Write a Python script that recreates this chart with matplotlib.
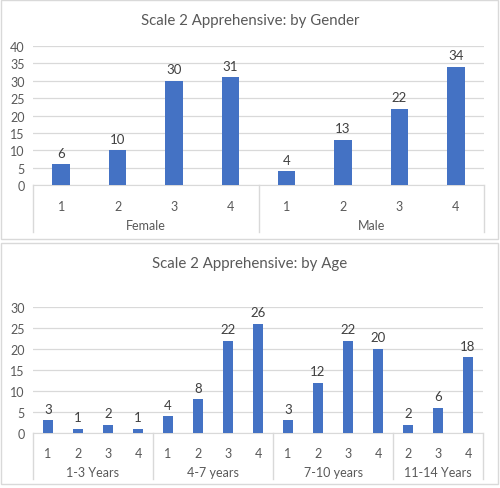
import matplotlib
matplotlib.use("Agg")
import matplotlib.pyplot as plt
from matplotlib.patches import Rectangle
from matplotlib import transforms
import numpy as np

plt.rcParams["font.family"] = ["Lato", "DejaVu Sans"]

# top chart: by gender
gender_groups = ["Female", "Male"]
gender_cats = [["1", "2", "3", "4"], ["1", "2", "3", "4"]]
gender_vals = [[6, 10, 30, 31], [4, 13, 22, 34]]

# bottom chart: by age
age_groups = ["1-3 Years", "4-7 years", "7-10 years", "11-14 Years"]
age_cats = [["1", "2", "3", "4"], ["1", "2", "3", "4"], ["1", "2", "3", "4"], ["2", "3", "4"]]
age_vals = [[3, 1, 2, 1], [4, 8, 22, 26], [3, 12, 22, 20], [2, 6, 18]]

BAR = "#4472C4"
GRID = "#D9D9D9"
TXT = "#595959"

W, H = 500, 489
fig = plt.figure(figsize=(W / 100, H / 100), dpi=100)


def px_axes(x0, y_top, x1, y_bot):
    return fig.add_axes([x0 / W, 1 - y_bot / H, (x1 - x0) / W, (y_bot - y_top) / H])


def panel_box(x0, y0, x1, y1):
    fig.patches.append(Rectangle((x0 / W, 1 - y1 / H), (x1 - x0) / W, (y1 - y0) / H,
                                 transform=fig.transFigure, fill=False,
                                 edgecolor=GRID, linewidth=1))


def draw(ax, groups, cats, vals, ymax, title, title_y, tick_off, grp_off, line_off):
    labels = [c for g in cats for c in g]
    values = [v for g in vals for v in g]
    x = np.arange(len(values))
    ax.bar(x, values, width=0.31, color=BAR, zorder=3)
    for xi, v in zip(x, values):
        ax.annotate(str(v), (xi, v), xytext=(0, 4), textcoords="offset points",
                    ha="center", va="bottom", fontsize=9.5, color="#404040")
    ax.set_xlim(-0.5, len(values) - 0.5)
    ax.set_ylim(0, ymax)
    ax.set_yticks(np.arange(0, ymax + 1, 5))
    ax.yaxis.grid(True, color=GRID, linewidth=0.9, zorder=0)
    ax.set_axisbelow(True)
    for s in ["top", "right", "left"]:
        ax.spines[s].set_visible(False)
    ax.spines["bottom"].set_color(GRID)
    ax.tick_params(axis="y", length=0, labelsize=9, labelcolor=TXT, pad=6)
    ax.set_xticks(x)
    ax.set_xticklabels(labels)
    ax.tick_params(axis="x", length=0, labelsize=9, labelcolor=TXT, pad=tick_off)

    trans = transforms.blended_transform_factory(ax.transData, ax.transAxes)
    h_px = ax.get_position().height * H
    start = 0
    bounds = [-0.5]
    for g, c in zip(groups, cats):
        centre = start + (len(c) - 1) / 2
        ax.text(centre, -grp_off / h_px, g, transform=trans, ha="center", va="center",
                fontsize=9, color=TXT)
        start += len(c)
        bounds.append(start - 0.5)
    for b in bounds:
        ax.plot([b, b], [0, -line_off / h_px], transform=trans, color=GRID,
                linewidth=1, clip_on=False)
    fig.text(0.5, 1 - title_y / H, title, ha="center", va="center",
             fontsize=10.8, color=TXT)


panel_box(1, 1, 498, 240)
panel_box(1, 244, 498, 485)

ax1 = px_axes(33, 47, 484, 186)
draw(ax1, gender_groups, gender_cats, gender_vals, 40,
     "Scale 2 Apprehensive: by Gender", 21, 11, 40, 47)

ax2 = px_axes(33, 308, 483, 434)
draw(ax2, age_groups, age_cats, age_vals, 30,
     "Scale 2 Apprehensive: by Age", 264, 10, 39, 46)

fig.savefig("out.png", dpi=100)
